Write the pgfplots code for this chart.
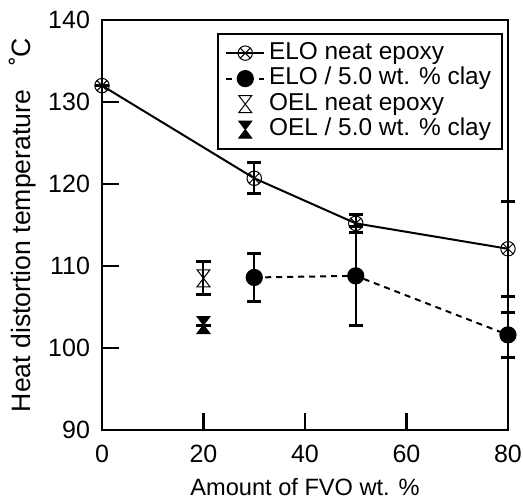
\documentclass[border=0pt]{standalone}
\usepackage{fontspec}
\setmainfont{Liberation Sans}
\usepackage{pgfplots}
\pgfplotsset{compat=1.18}

% Hourglass marks: open and filled
\pgfdeclareplotmark{hourglass}{%
  \pgfpathmoveto{\pgfqpoint{-0.76\pgfplotmarksize}{\pgfplotmarksize}}%
  \pgfpathlineto{\pgfqpoint{0.76\pgfplotmarksize}{\pgfplotmarksize}}%
  \pgfpathlineto{\pgfqpoint{-0.76\pgfplotmarksize}{-\pgfplotmarksize}}%
  \pgfpathlineto{\pgfqpoint{0.76\pgfplotmarksize}{-\pgfplotmarksize}}%
  \pgfpathclose
  \pgfusepathqstroke}
\pgfdeclareplotmark{hourglass*}{%
  \pgfpathmoveto{\pgfqpoint{-0.76\pgfplotmarksize}{\pgfplotmarksize}}%
  \pgfpathlineto{\pgfqpoint{0.76\pgfplotmarksize}{\pgfplotmarksize}}%
  \pgfpathlineto{\pgfqpoint{-0.76\pgfplotmarksize}{-\pgfplotmarksize}}%
  \pgfpathlineto{\pgfqpoint{0.76\pgfplotmarksize}{-\pgfplotmarksize}}%
  \pgfpathclose
  \pgfusepathqfillstroke}

\begin{document}
\begin{tikzpicture}
\path[use as bounding box] (-51pt,-35.5pt) rectangle (210.5pt,215pt);
\begin{axis}[
  scale only axis,
  width=203pt, height=205pt,
  clip=false,
  xmin=0, xmax=80, ymin=90, ymax=140,
  xtick={0,20,40,60,80},
  ytick={90,100,110,120,130,140},
  tick pos=left,
  tick align=inside,
  major tick length=8.5pt,
  axis line style={line width=1.3pt},
  every tick/.style={line width=1.3pt, black},
  font=\fontsize{12.5}{14}\selectfont,
  /pgf/number format/assume math mode=true,
  xticklabel style={yshift=-4pt},
  yticklabel style={xshift=-2.5pt},
  xlabel={Amount of FVO wt. \%},
  ylabel={Heat distortion temperature\hspace{0.9em}˚C},
  xlabel style={font=\fontsize{11.8}{14}\selectfont, yshift=-1pt},
  ylabel style={font=\fontsize{13.3}{15}\selectfont, yshift=-1pt},
  legend cell align=left,
  legend style={at={(0.9877,0.968)}, anchor=north east,
    draw=black, line width=1pt, inner xsep=3.5pt, inner ysep=3.8pt, row sep=1.35pt,
    font=\fontsize{12.2}{12.75}\selectfont,
    nodes={inner ysep=0pt, text height=8.8pt, text depth=2.6pt}},
  legend image code/.code={%
    \draw[mark repeat=2,mark phase=2] plot coordinates {(0cm,0cm) (0.33cm,0cm) (0.66cm,0cm)};},
  error bars/y dir=both,
  error bars/y explicit,
  error bars/error bar style={line width=1pt, black, solid},
  error bars/error mark options={line width=1.5pt, mark size=3.6pt, black, rotate=90},
]
% ELO neat epoxy
\addplot[black, line width=1pt, mark=otimes, mark size=3.6pt,
  mark options={line width=0.5pt, solid}]
  table[x=x, y=y, y error=e] {
  x  y     e
  0  132.0 0
  30 120.7 1.9
  50 115.2 1.1
  80 112.1 5.8
};
\addlegendentry{ELO neat epoxy}
% ELO / 5.0 wt. % clay
\addplot[black, line width=1pt, dash pattern=on 3pt off 2.5pt, mark=*, mark size=3.8pt,
  mark options={solid}]
  table[x=x, y=y, y error=e] {
  x  y     e
  30 108.6 2.95
  50 108.8 6.0
  80 101.6 2.75
};
\addlegendentry{ELO / 5.0 wt. \% clay}
% OEL neat epoxy
\addplot[black, only marks, mark=hourglass, mark size=4.25pt,
  mark options={line width=0.5pt}]
  table[x=x, y=y, y error=e] {
  x  y     e
  20 108.5 2.0
};
\addlegendentry{OEL neat epoxy}
% OEL / 5.0 wt. % clay
\addplot[black, only marks, mark=hourglass*, mark size=4.25pt,
  mark options={line width=0.5pt, fill=black}]
  table[x=x, y=y, y error=e] {
  x  y     e
  20 102.8 0
};
\addlegendentry{OEL / 5.0 wt. \% clay}
\end{axis}
\end{tikzpicture}
\end{document}
